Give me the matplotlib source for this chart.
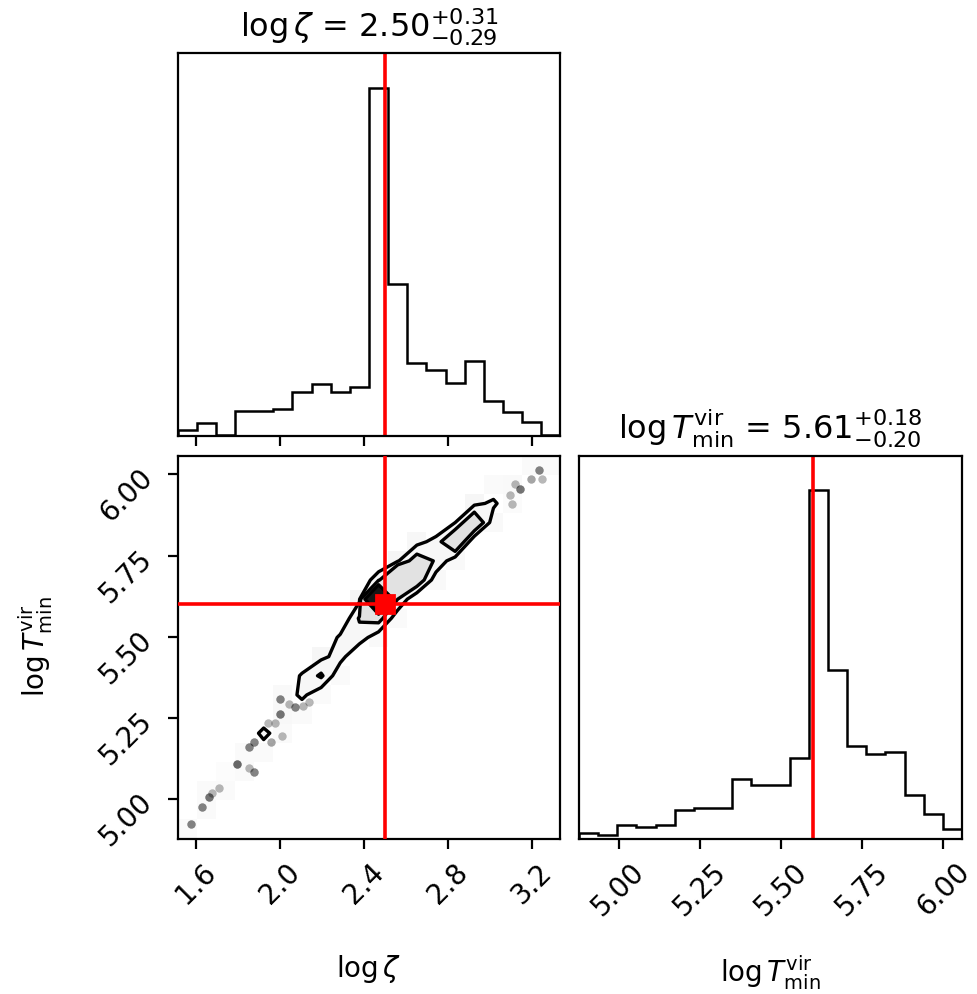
import numpy as np
import matplotlib
matplotlib.use("Agg")
import matplotlib.pyplot as plt

plt.rcParams["font.size"] = 10

# parameter ranges, both panels use 20 bins
zeta_range = (1.511, 3.338)
tvir_range = (4.878, 6.058)
n_bins = 20

truth_zeta = 2.50
truth_tvir = 5.60

# 1d marginal histograms
zeta_counts = [20, 40, 5, 77, 77, 83, 135, 158, 135, 150,
               1048, 460, 222, 200, 160, 227, 107, 75, 45, 5]
tvir_counts = [17, 10, 40, 35, 40, 87, 92, 92, 179, 160,
               160, 242, 1047, 507, 277, 255, 259, 132, 75, 29]

# 2d histogram, non-empty cells (zeta bin, tvir bin, counts)
cell_ix = [6, 6, 7, 8, 8, 9, 9, 10, 10, 11, 11, 10, 12, 12, 13, 13, 14, 15, 16, 4, 14,
           11, 15, 7, 9, 12, 16, 5, 5,
           0, 1, 1, 2, 3, 3, 4, 5, 17, 18, 17, 16, 19, 8, 10, 11, 13, 14, 2, 6, 7]
cell_iy = [7, 8, 8, 9, 10, 10, 11, 11, 12, 12, 13, 13, 13, 14, 14, 15, 15, 16, 17, 5, 16,
           14, 17, 9, 12, 15, 16, 6, 7,
           0, 1, 2, 2, 3, 4, 4, 5, 18, 19, 17, 18, 19, 8, 10, 11, 13, 14, 3, 6, 7]
cell_n = [50, 46, 88, 55, 48, 60, 85, 100, 800, 80, 250, 70, 120, 110, 75, 55, 150, 140, 48, 55, 40,
          35, 30, 30, 32, 25, 15, 20, 12,
          10, 10, 8, 10, 10, 10, 10, 8, 15, 10, 6, 10, 8, 8, 15, 10, 15, 12, 5, 8, 10]

# stray samples outside the contours (x, y, number of repeats)
pts_x = [1.575, 1.627, 1.659, 1.675, 1.711, 1.797, 1.850, 1.874, 1.850, 1.874,
         1.941, 1.957, 2.009, 1.977, 2.001, 2.001, 2.041, 2.073, 2.112, 2.136,
         3.235, 3.195, 3.251, 3.147, 3.123, 3.099, 3.108]
pts_y = [4.923, 4.976, 5.005, 5.018, 5.035, 5.108, 5.094, 5.082, 5.159, 5.176,
         5.235, 5.176, 5.194, 5.235, 5.262, 5.307, 5.294, 5.284, 5.286, 5.299,
         6.012, 5.987, 5.985, 5.956, 5.971, 5.935, 5.910]
pts_n = [6, 6, 7, 3, 3, 8, 3, 6, 6, 6,
         3, 4, 3, 3, 7, 6, 3, 6, 3, 3,
         6, 4, 3, 7, 3, 3, 3]

zeta_ticks = [1.6, 2.0, 2.4, 2.8, 3.2]
tvir_ticks = [5.00, 5.25, 5.50, 5.75, 6.00]

label_zeta = r"$\log\zeta$"
label_tvir = r"$\log T_{\rm min}^{\rm vir}$"
title_zeta = label_zeta + " = " + r"$2.50_{-0.29}^{+0.31}$"
title_tvir = label_tvir + " = " + r"$5.61_{-0.20}^{+0.18}$"

x_edges = np.linspace(zeta_range[0], zeta_range[1], n_bins + 1)
y_edges = np.linspace(tvir_range[0], tvir_range[1], n_bins + 1)

fig = plt.figure(figsize=(978 / 200, 994 / 200), dpi=200)
ax_top = fig.add_axes([0.1815, 0.5609, 0.3916, 0.3853])
ax_2d = fig.add_axes([0.1815, 0.1564, 0.3916, 0.3853])
ax_right = fig.add_axes([0.592, 0.1564, 0.3916, 0.3853])

# --- diagonal histograms
for ax, counts, edges, truth, title in [
        (ax_top, zeta_counts, x_edges, truth_zeta, title_zeta),
        (ax_right, tvir_counts, y_edges, truth_tvir, title_tvir)]:
    ax.stairs(counts, edges, color="k", lw=0.9)
    ax.axvline(truth, color="red", lw=1.3)
    ax.set_xlim(edges[0], edges[-1])
    ax.set_ylim(0, 1.1 * max(counts))
    ax.set_yticks([])
    ax.set_title(title, fontsize=11.5)

ax_top.set_xticks(zeta_ticks)
ax_top.set_xticklabels([])
ax_right.set_xticks(tvir_ticks)
ax_right.set_xticklabels(["%.2f" % t for t in tvir_ticks], rotation=45)
ax_right.set_xlabel(label_tvir)
ax_right.xaxis.set_label_coords(0.5, -0.3)

# --- 2d histogram with sigma contours
H = np.zeros((n_bins, n_bins))
np.add.at(H, (np.array(cell_ix), np.array(cell_iy)), cell_n)

sig_levels = 1.0 - np.exp(-0.5 * np.arange(0.5, 2.1, 0.5) ** 2)
Hflat = np.sort(H.ravel())[::-1]
cum = np.cumsum(Hflat)
cum /= cum[-1]
V = []
for v0 in sig_levels:
    sel = Hflat[cum <= v0]
    V.append(sel[-1] if len(sel) else Hflat[0])
V = np.sort(V)

xc = 0.5 * (x_edges[1:] + x_edges[:-1])
yc = 0.5 * (y_edges[1:] + y_edges[:-1])
dx, dy = xc[1] - xc[0], yc[1] - yc[0]
xc2 = np.concatenate([[xc[0] - dx], xc, [xc[-1] + dx]])
yc2 = np.concatenate([[yc[0] - dy], yc, [yc[-1] + dy]])
H2 = np.pad(H, 1)

# faint density squares for the sparse tail
shade = np.ma.masked_where((H == 0) | (H >= V[0]), 1 - 0.022 * np.sqrt(H / 10.0))
ax_2d.pcolormesh(x_edges, y_edges, shade.T, cmap="gray", vmin=0, vmax=1, zorder=0)

ax_2d.plot(np.repeat(pts_x, pts_n), np.repeat(pts_y, pts_n), "o", color="k",
           ms=3.0, alpha=0.1, mec="none", zorder=1)

fill_levels = list(V) + [H.max() * (1 + 1e-4)]
ax_2d.contourf(xc2, yc2, H2.T, fill_levels,
               colors=["#f7f7f7", "#e2e2e2", "#151515", "#000000"], zorder=2)
ax_2d.contour(xc2, yc2, H2.T, V, colors="k", linewidths=1.2, zorder=3)

ax_2d.axvline(truth_zeta, color="red", lw=1.3, zorder=4)
ax_2d.axhline(truth_tvir, color="red", lw=1.3, zorder=4)
ax_2d.plot(truth_zeta, truth_tvir, "s", color="red", ms=6.5, zorder=5)

ax_2d.set_xlim(zeta_range)
ax_2d.set_ylim(tvir_range)
ax_2d.set_xticks(zeta_ticks)
ax_2d.set_xticklabels(["%.1f" % t for t in zeta_ticks], rotation=45)
ax_2d.set_yticks(tvir_ticks)
ax_2d.set_yticklabels(["%.2f" % t for t in tvir_ticks], rotation=45)
ax_2d.set_xlabel(label_zeta)
ax_2d.set_ylabel(label_tvir)
ax_2d.xaxis.set_label_coords(0.5, -0.3)
ax_2d.yaxis.set_label_coords(-0.32, 0.5)

fig.savefig("out.png", dpi=200)
